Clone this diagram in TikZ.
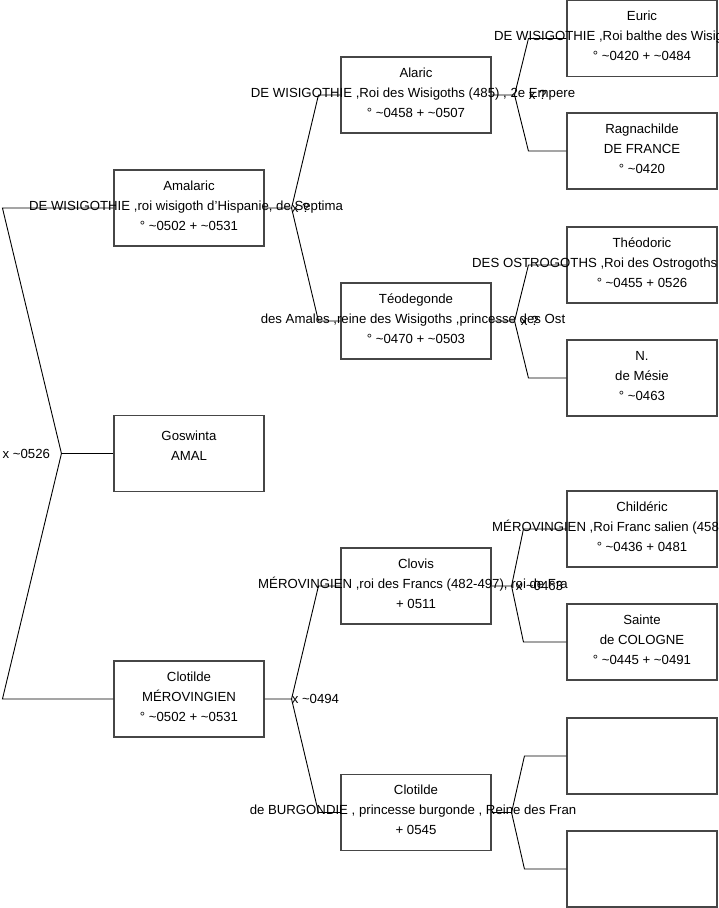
\documentclass[tikz,border=0pt]{standalone}
\usepackage{fontspec}
\setmainfont{Liberation Sans}
\begin{document}
\begin{tikzpicture}[x=1pt,y=-1pt,
  pbox/.style={draw={rgb,255:red,70;green,70;blue,70}, line width=1.1pt, fill=white,
    minimum width=150pt, minimum height=76pt, inner sep=0pt},
  ptxt/.style={anchor=base, inner sep=0pt, font=\fontsize{13.2}{15}\selectfont},
  ptxtw/.style={anchor=base west, inner sep=0pt, font=\fontsize{13.2}{15}\selectfont},
  lbl/.style={anchor=west, inner sep=0pt, font=\fontsize{13.2}{15}\selectfont},
  conn/.style={draw=black, line width=0.9pt}]
\useasboundingbox (0,0) rectangle (719,908);
\fill[white] (0,0) rectangle (719,908);

% boxes
\node[pbox] (amalaric) at (189,208) {};
\node[pbox] (goswinta) at (189,453.5) {};
\node[pbox] (clotilde) at (189,699) {};
\node[pbox] (alaric) at (416,95) {};
\node[pbox] (teodegonde) at (416,321) {};
\node[pbox] (clovis) at (416,586) {};
\node[pbox] (clotildeb) at (416,812.5) {};
\node[pbox] (euric) at (642,38.5) {};
\node[pbox] (ragna) at (642,151) {};
\node[pbox] (theodoric) at (642,265) {};
\node[pbox] (nmesie) at (642,378) {};
\node[pbox] (childeric) at (642,529) {};
\node[pbox] (sainte) at (642,642) {};
\node[pbox] (empty1) at (642,756) {};
\node[pbox] (empty2) at (642,869) {};

% root fork
\coordinate (r0) at ([xshift=-52pt]goswinta.west);
\coordinate (rA) at ([xshift=-111pt]amalaric.west);
\coordinate (rC) at ([xshift=-111pt]clotilde.west);
\draw[conn] (amalaric.west) -- (rA) -- (r0) -- (rC) -- (clotilde.west);
\draw[conn] (r0) -- (goswinta.west);
\node[lbl] (lroot) at (r0 -| rA) {x \textasciitilde0526};

% level 1 -> 2 forks
\coordinate (f1) at ([xshift=27pt]amalaric.east);
\draw[conn] (amalaric.east) -- (f1) -- ([xshift=-22pt]alaric.west) -- (alaric.west);
\draw[conn] (f1) -- ([xshift=-22pt]teodegonde.west) -- (teodegonde.west);
\coordinate (f2) at ([xshift=27pt]clotilde.east);
\draw[conn] (clotilde.east) -- (f2) -- ([xshift=-22pt]clovis.west) -- (clovis.west);
\draw[conn] (f2) -- ([xshift=-22pt]clotildeb.west) -- (clotildeb.west);

% level 2 -> 3 forks
\coordinate (g1) at ([xshift=23pt]alaric.east);
\draw[conn] (alaric.east) -- (g1) -- ([xshift=-38pt]euric.west) -- (euric.west);
\draw[conn] (g1) -- ([xshift=-38pt]ragna.west) -- (ragna.west);
\coordinate (g2) at ([xshift=23pt]teodegonde.east);
\draw[conn] (teodegonde.east) -- (g2) -- ([xshift=-38pt]theodoric.west) -- (theodoric.west);
\draw[conn] (g2) -- ([xshift=-38pt]nmesie.west) -- (nmesie.west);
\coordinate (g3) at ([xshift=20pt]clovis.east);
\draw[conn] (clovis.east) -- (g3) -- ([xshift=-43pt]childeric.west) -- (childeric.west);
\draw[conn] (g3) -- ([xshift=-43pt]sainte.west) -- (sainte.west);
\coordinate (g4) at ([xshift=20pt]clotildeb.east);
\draw[conn] (clotildeb.east) -- (g4) -- ([xshift=-42pt]empty1.west) -- (empty1.west);
\draw[conn] (g4) -- ([xshift=-42pt]empty2.west) -- (empty2.west);

% texts
\node[ptxt] (amalaric-a) at (189,190) {Amalaric};
\node[ptxt] (amalaric-b) at (186,210) {DE WISIGOTHIE ,roi wisigoth d\symbol{39}Hispanie, de Septima};
\node[ptxt] (amalaric-c) at (189,230) {° \textasciitilde0502 + \textasciitilde0531};
\node[ptxt] (goswinta-a) at (189,440.5) {Goswinta};
\node[ptxt] (goswinta-b) at (189,460.5) {AMAL};
\node[ptxt] (clotilde-a) at (189,681) {Clotilde};
\node[ptxt] (clotilde-b) at (189,701) {MÉROVINGIEN};
\node[ptxt] (clotilde-c) at (189,721) {° \textasciitilde0502 + \textasciitilde0531};

\node[ptxt] (alaric-a) at (416,77) {Alaric};
\node[ptxt] (alaric-b) at (413,97) {DE WISIGOTHIE ,Roi des Wisigoths (485) , 2e Empere};
\node[ptxt] (alaric-c) at (416,117) {° \textasciitilde0458 + \textasciitilde0507};
\node[ptxt] (teodegonde-a) at (416,303) {Téodegonde};
\node[ptxt] (teodegonde-b) at (413,323) {des Amales ,reine des Wisigoths ,princesse des Ost};
\node[ptxt] (teodegonde-c) at (416,343) {° \textasciitilde0470 + \textasciitilde0503};
\node[ptxt] (clovis-a) at (416,568) {Clovis};
\node[ptxt] (clovis-b) at (413,588) {MÉROVINGIEN ,roi des Francs (482-497), roi de Fra};
\node[ptxt] (clovis-c) at (416,608) {+ 0511};
\node[ptxt] (clotildeb-a) at (416,794.5) {Clotilde};
\node[ptxt] (clotildeb-b) at (413,814.5) {de BURGONDIE , princesse burgonde , Reine des Fran};
\node[ptxt] (clotildeb-c) at (416,834.5) {+ 0545};

\node[ptxt] (euric-a) at (642,20.5) {Euric};
\node[ptxtw] (euric-b) at (494,40.5) {DE WISIGOTHIE ,Roi balthe des Wisigoths};
\node[ptxt] (euric-c) at (642,60.5) {° \textasciitilde0420 + \textasciitilde0484};
\node[ptxt] (ragna-a) at (642,133) {Ragnachilde};
\node[ptxt] (ragna-b) at (642,153) {DE FRANCE};
\node[ptxt] (ragna-c) at (642,173) {° \textasciitilde0420};
\node[ptxt] (theodoric-a) at (642,247) {Théodoric};
\node[ptxtw] (theodoric-b) at (472,267) {DES OSTROGOTHS ,Roi des Ostrogoths};
\node[ptxt] (theodoric-c) at (642,287) {° \textasciitilde0455 + 0526};
\node[ptxt] (nmesie-a) at (642,360) {N.};
\node[ptxt] (nmesie-b) at (642,380) {de Mésie};
\node[ptxt] (nmesie-c) at (642,400) {° \textasciitilde0463};
\node[ptxt] (childeric-a) at (642,511) {Childéric};
\node[ptxtw] (childeric-b) at (492,531) {MÉROVINGIEN ,Roi Franc salien (458-481)};
\node[ptxt] (childeric-c) at (642,551) {° \textasciitilde0436 + 0481};
\node[ptxt] (sainte-a) at (642,624) {Sainte};
\node[ptxt] (sainte-b) at (642,644) {de COLOGNE};
\node[ptxt] (sainte-c) at (642,664) {° \textasciitilde0445 + \textasciitilde0491};

% fork labels
\node[lbl] (l1) at (f1) {x ?};
\node[lbl] (l2) at (f2) {x \textasciitilde0494};
\node[lbl] (l3) at ([xshift=14pt]g1) {x ?};
\node[lbl] (l4) at ([xshift=6pt]g2) {x ?};
\node[lbl] (l5) at ([xshift=4pt]g3) {x \textasciitilde0463};
\end{tikzpicture}
\end{document}
